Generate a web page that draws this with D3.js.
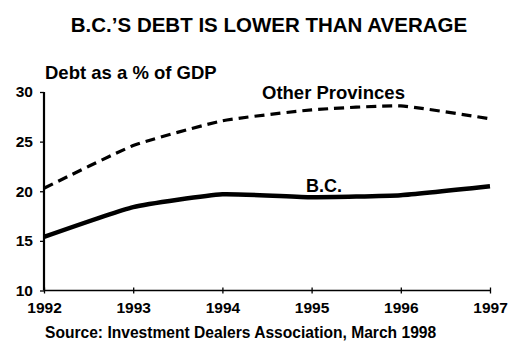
<!DOCTYPE html>
<html>
<head>
  <script src="https://cdn.jsdelivr.net/npm/d3@7"></script>
  <style>
    body { margin: 0; background: #fff; }
    text { font-family: "Liberation Sans", Arial, sans-serif; font-weight: bold; fill: #000; }
  </style>
</head>
<body>
  <svg id="chart" width="513" height="353"></svg>
  <script>
    var years = [1992, 1993, 1994, 1995, 1996, 1997];
    var otherProvinces = [20.3, 24.6, 27.1, 28.2, 28.6, 27.3];
    var bc = [15.4, 18.4, 19.7, 19.4, 19.6, 20.5];
    var yTicks = [10, 15, 20, 25, 30];

    var svg = d3.select('#chart');

    var x = d3.scaleLinear().domain([1992, 1997]).range([44, 490]);
    var y = d3.scaleLinear().domain([10, 30]).range([290.5, 92]);

    // title
    svg.append('text')
      .attr('x', 269).attr('y', 32)
      .attr('text-anchor', 'middle')
      .style('font-size', '20.5px')
      .text('B.C.\u2019S DEBT IS LOWER THAN AVERAGE');

    svg.append('text')
      .attr('x', 45).attr('y', 79)
      .style('font-size', '18.5px')
      .text('Debt as a % of GDP');

    // y axis
    var yAxis = svg.append('g')
      .attr('transform', 'translate(' + x(1992) + ',0)')
      .call(d3.axisLeft(y).tickValues(yTicks).tickSize(4).tickPadding(7));
    yAxis.select('.domain').attr('stroke-width', 2.2).attr('d', 'M0,' + y(30) + 'V' + y(10));
    yAxis.selectAll('.tick line').attr('stroke-width', 1.3);
    yAxis.selectAll('.tick text').style('font-size', '15.5px').attr('font-family', null);

    // x axis
    var xAxis = svg.append('g')
      .attr('transform', 'translate(0,' + y(10) + ')')
      .call(d3.axisBottom(x).tickValues(years).tickFormat(d3.format('d')).tickSize(3).tickPadding(8));
    xAxis.select('.domain').attr('stroke-width', 1.5).attr('d', 'M' + x(1992) + ',0H' + x(1997));
    xAxis.selectAll('.tick line').attr('y1', -3).attr('stroke-width', 1.3);
    xAxis.selectAll('.tick text').style('font-size', '15.5px').attr('font-family', null);

    var line = d3.line()
      .x((d, i) => x(years[i]))
      .y(d => y(d))
      .curve(d3.curveCardinal.tension(0.55));

    svg.append('path')
      .attr('d', line(otherProvinces))
      .attr('fill', 'none')
      .attr('stroke', '#000')
      .attr('stroke-width', 3.2)
      .attr('stroke-dasharray', '10,6');

    svg.append('path')
      .attr('d', line(bc))
      .attr('fill', 'none')
      .attr('stroke', '#000')
      .attr('stroke-width', 4.5);

    svg.append('text')
      .attr('x', 262).attr('y', 99)
      .style('font-size', '18.5px')
      .text('Other Provinces');

    svg.append('text')
      .attr('x', 306).attr('y', 192)
      .style('font-size', '18px')
      .text('B.C.');

    svg.append('text')
      .attr('x', 45).attr('y', 338)
      .style('font-size', '15.6px')
      .text('Source: Investment Dealers Association, March 1998');
  </script>
</body>
</html>
